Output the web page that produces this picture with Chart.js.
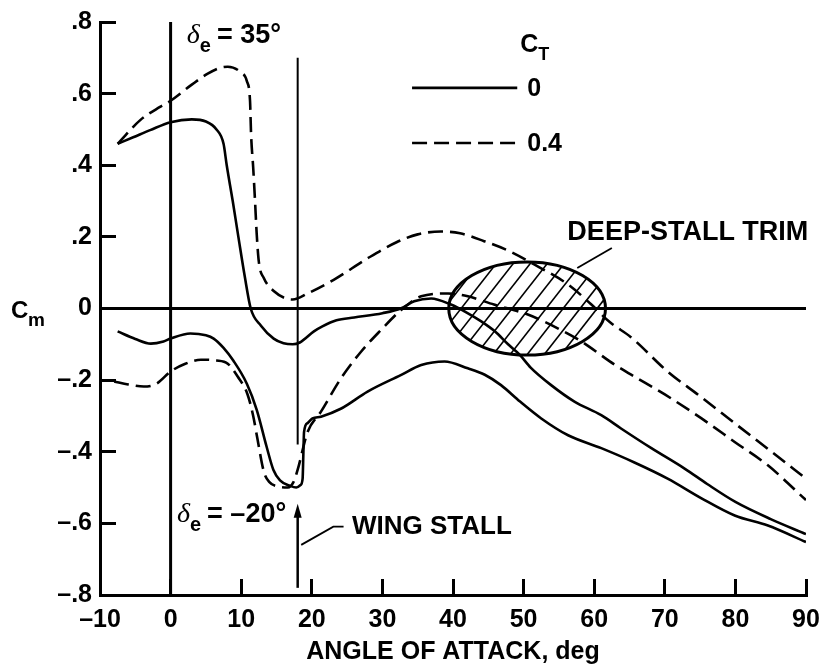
<!DOCTYPE html>
<html>
<head>
<meta charset="utf-8">
<script src="https://cdn.jsdelivr.net/npm/chart.js@4.4.0/dist/chart.umd.min.js"></script>
<style>
html, body { margin: 0; padding: 0; background: #fff; }
#wrap { width: 829px; height: 667px; position: relative; }
</style>
</head>
<body>
<div id="wrap"><canvas id="cmChart"></canvas></div>
<script>
// axis ticks
const xTicks = [-10, 0, 10, 20, 30, 40, 50, 60, 70, 80, 90];
const xTickLabels = ['\u201310', '0', '10', '20', '30', '40', '50', '60', '70', '80', '90'];
const yTicks = [0.8, 0.6, 0.4, 0.2, 0, -0.2, -0.4, -0.6, -0.8];
const yTickLabels = ['.8', '.6', '.4', '.2', '0', '\u2013.2', '\u2013.4', '\u2013.6', '\u2013.8'];
const xTitle = 'ANGLE OF ATTACK, deg';

// legend (thrust coefficient)
const ctLabels = ['0', '0.4'];
const deltaLabels = ['35\u00b0', '\u201320\u00b0'];

// CT = 0, delta_e = 35 deg
const alphaA = [-7.5, -5.3, -2.9, 0, 3, 5, 6.5, 7.5, 7.95, 8.8, 9.6, 10.5, 11.35, 12.8, 14.6, 16, 17.3, 18.3, 20.3, 21.5, 23.5, 26, 30, 32.6, 34.5, 36.9, 39.7, 42, 44, 46, 47.8, 49.4, 51, 53.9, 57.2, 61, 63.8, 68.1, 72.8, 76, 80, 85, 90];
const cmA =    [0.46, 0.478, 0.498, 0.52, 0.528, 0.522, 0.50, 0.46, 0.40, 0.30, 0.20, 0.09, 0.0, -0.048, -0.084, -0.097, -0.1, -0.095, -0.064, -0.05, -0.033, -0.025, -0.013, 0, 0.02, 0.028, 0.011, -0.012, -0.036, -0.065, -0.1, -0.128, -0.165, -0.214, -0.26, -0.298, -0.335, -0.39, -0.447, -0.49, -0.54, -0.588, -0.63];

// CT = 0.4, delta_e = 35 deg
const alphaB = [-7.5, -4.3, -1.5, 0, 3, 5.2, 7, 8.1, 9.9, 10.8, 11.25, 11.4, 11.7, 11.96, 12.2, 12.5, 13.2, 14.65, 16.5, 17.3, 19.4, 23.1, 27.9, 32, 35, 38.3, 41, 44.4, 48, 51.5, 56.3, 59.6, 62.2, 65.2, 70.4, 75, 80, 85, 90];
const cmB =    [0.46, 0.526, 0.563, 0.58, 0.625, 0.655, 0.672, 0.675, 0.66, 0.635, 0.58, 0.486, 0.393, 0.30, 0.207, 0.13, 0.085, 0.048, 0.027, 0.025, 0.042, 0.08, 0.14, 0.185, 0.207, 0.215, 0.21, 0.188, 0.16, 0.123, 0.067, 0.011, -0.038, -0.08, -0.176, -0.245, -0.322, -0.398, -0.475];

// CT = 0, delta_e = -20 deg
const alphaC = [-7.5, -5, -2.8, -1, 0, 2.8, 5, 6.1, 7.5, 8.9, 10.8, 12.2, 13.6, 14.55, 15.5, 16.9, 17.8, 18.4, 18.7, 18.8, 18.9, 19.4, 20.1, 21.3, 24.1, 27.9, 32.6, 35.5, 38.8, 42.1, 44.5, 46.8, 49.5, 52.5, 56.3, 61, 65.7, 70.4, 75.2, 79.9, 84.6, 90];
const cmC =    [-0.064, -0.085, -0.098, -0.092, -0.084, -0.07, -0.075, -0.084, -0.11, -0.146, -0.21, -0.283, -0.386, -0.45, -0.48, -0.495, -0.5, -0.493, -0.475, -0.41, -0.345, -0.32, -0.307, -0.302, -0.28, -0.232, -0.186, -0.158, -0.148, -0.167, -0.185, -0.214, -0.26, -0.307, -0.354, -0.39, -0.43, -0.475, -0.53, -0.578, -0.606, -0.652];

// CT = 0.4, delta_e = -20 deg
const alphaD = [-8, -6, -3.8, -2, 0, 2, 4.3, 6.5, 8.1, 9.5, 10.9, 11.7, 12.3, 13.2, 14, 15.2, 16.6, 17.4, 18, 19.4, 21.3, 24.1, 27, 29.8, 32.6, 35.5, 39.3, 42.1, 45.8, 50.6, 54.9, 58.2, 62.9, 65.7, 70, 75.2, 80, 84.6, 90];
const cmD =    [-0.204, -0.212, -0.218, -0.21, -0.176, -0.155, -0.143, -0.145, -0.154, -0.19, -0.24, -0.30, -0.364, -0.455, -0.485, -0.497, -0.5, -0.485, -0.45, -0.345, -0.288, -0.196, -0.12, -0.06, -0.005, 0.034, 0.042, 0.034, 0.011, -0.017, -0.056, -0.092, -0.157, -0.19, -0.24, -0.307, -0.374, -0.438, -0.535];

// reference marks
const wingStallAlpha = 18;
const wingStallLine = [0.70, -0.38];
const wingStallArrow = [-0.78, -0.545];
const trimCenter = [50.5, 0];
const trimRadius = [11.1, 0.13];

const SANS = '"Liberation Sans", Arial, Helvetica, sans-serif';
const DASH = [15, 7];
const TICK_LEN = 16;   // inward tick marks, px

function toXY(xs, ys) {
    return xs.map((v, i) => ({ x: v, y: ys[i] }));
}

function curve(label, xs, ys, dashed) {
    return {
        label: label,
        data: toXY(xs, ys),
        showLine: true,
        borderColor: '#000',
        borderWidth: 2.6,
        borderDash: dashed ? DASH : [],
        pointRadius: 0,
        cubicInterpolationMode: 'monotone',
        fill: false
    };
}

function refLine(xs, ys) {
    return {
        data: toXY(xs, ys),
        showLine: true,
        borderColor: '#000',
        borderWidth: 3,
        pointRadius: 0,
        tension: 0,
        clip: false
    };
}

// keep the plot box fixed: no extra label padding from the scales
function fixPadding(s) {
    s.paddingTop = 0;
    s.paddingBottom = 0;
    s.paddingLeft = 0;
    s.paddingRight = 0;
}

function drawDelta(ctx, px, py, rest) {
    ctx.textAlign = 'left';
    ctx.textBaseline = 'alphabetic';
    ctx.font = 'italic 28px "Liberation Serif", "DejaVu Serif", serif';
    ctx.fillText('\u03b4', px, py);
    let w = ctx.measureText('\u03b4').width;
    ctx.font = 'bold 20px ' + SANS;
    ctx.fillText('e', px + w, py + 9);
    w += ctx.measureText('e').width + 6;
    ctx.font = 'bold 27px ' + SANS;
    ctx.fillText('= ' + rest, px + w, py);
}

// ellipse, stall marks, labels, legend
const annotate = {
    id: 'annotate',
    beforeDatasetsDraw(chart) {
        const { ctx, scales: { x, y } } = chart;
        const cx = x.getPixelForValue(trimCenter[0]);
        const cy = y.getPixelForValue(trimCenter[1]);
        const rx = Math.abs(x.getPixelForValue(trimCenter[0] + trimRadius[0]) - cx);
        const ry = Math.abs(cy - y.getPixelForValue(trimCenter[1] + trimRadius[1]));

        ctx.save();
        ctx.beginPath();
        ctx.ellipse(cx, cy, rx, ry, 0, 0, Math.PI * 2);
        ctx.clip();
        ctx.strokeStyle = '#000';
        ctx.lineWidth = 1.6;
        const a = 52 * Math.PI / 180;
        const dx = Math.cos(a) * 200, dy = Math.sin(a) * 200;
        for (let k = -10; k <= 10; k++) {
            const x0 = cx + 2 + k * 17;
            ctx.beginPath();
            ctx.moveTo(x0 - dx, cy + dy);
            ctx.lineTo(x0 + dx, cy - dy);
            ctx.stroke();
        }
        ctx.restore();

        ctx.save();
        ctx.beginPath();
        ctx.ellipse(cx, cy, rx, ry, 0, 0, Math.PI * 2);
        ctx.strokeStyle = '#000';
        ctx.lineWidth = 3;
        ctx.stroke();
        ctx.restore();
    },
    afterDraw(chart) {
        const { ctx, scales: { x, y } } = chart;

        ctx.save();
        ctx.setLineDash([]);
        ctx.strokeStyle = '#000';
        ctx.fillStyle = '#000';

        // wing stall line and arrow
        const sx = x.getPixelForValue(wingStallAlpha);
        ctx.lineWidth = 2;
        ctx.beginPath();
        ctx.moveTo(sx, y.getPixelForValue(wingStallLine[0]));
        ctx.lineTo(sx, y.getPixelForValue(wingStallLine[1]));
        ctx.stroke();
        const ay0 = y.getPixelForValue(wingStallArrow[0]);
        const ay1 = y.getPixelForValue(wingStallArrow[1]);
        ctx.lineWidth = 2.5;
        ctx.beginPath();
        ctx.moveTo(sx, ay0);
        ctx.lineTo(sx, ay1 + 10);
        ctx.stroke();
        ctx.beginPath();
        ctx.moveTo(sx, ay1);
        ctx.lineTo(sx - 4, ay1 + 14);
        ctx.lineTo(sx + 4, ay1 + 14);
        ctx.closePath();
        ctx.fill();

        // WING STALL leader + label
        ctx.lineWidth = 1.8;
        ctx.beginPath();
        ctx.moveTo(x.getPixelForValue(18.5), y.getPixelForValue(-0.66));
        ctx.lineTo(x.getPixelForValue(23.05), y.getPixelForValue(-0.609));
        ctx.lineTo(x.getPixelForValue(24.5), y.getPixelForValue(-0.609));
        ctx.stroke();
        ctx.font = 'bold 26px ' + SANS;
        ctx.textAlign = 'left';
        ctx.textBaseline = 'middle';
        ctx.fillText('WING STALL', x.getPixelForValue(25.7), y.getPixelForValue(-0.609));

        // DEEP-STALL TRIM leader + label
        ctx.beginPath();
        ctx.moveTo(x.getPixelForValue(57.6), y.getPixelForValue(0.113));
        ctx.lineTo(x.getPixelForValue(62.5), y.getPixelForValue(0.169));
        ctx.stroke();
        ctx.font = 'bold 27px ' + SANS;
        ctx.fillText('DEEP-STALL TRIM', x.getPixelForValue(56.2), y.getPixelForValue(0.213));

        // elevator deflection labels
        drawDelta(ctx, x.getPixelForValue(2.3), y.getPixelForValue(0.741), deltaLabels[0]);
        drawDelta(ctx, x.getPixelForValue(0.9), y.getPixelForValue(-0.596), deltaLabels[1]);

        // C_m axis label
        ctx.textAlign = 'left';
        ctx.textBaseline = 'alphabetic';
        ctx.font = 'bold 24px ' + SANS;
        const cmY = y.getPixelForValue(0) + 9;
        ctx.fillText('C', 11, cmY);
        ctx.font = 'bold 19px ' + SANS;
        ctx.fillText('m', 28, cmY + 8);

        // legend
        const lx0 = x.getPixelForValue(34.2), lx1 = x.getPixelForValue(49.1);
        const legY = [y.getPixelForValue(0.616), y.getPixelForValue(0.462)];
        ctx.font = 'bold 25px ' + SANS;
        ctx.fillText('C', lx1 + 3, y.getPixelForValue(0.717));
        const cw = ctx.measureText('C').width;
        ctx.font = 'bold 18px ' + SANS;
        ctx.fillText('T', lx1 + 3 + cw, y.getPixelForValue(0.694));
        ctx.lineWidth = 2.6;
        ctLabels.forEach((lab, i) => {
            ctx.setLineDash(i === 0 ? [] : DASH);
            ctx.beginPath();
            ctx.moveTo(lx0, legY[i]);
            ctx.lineTo(lx1, legY[i]);
            ctx.stroke();
            ctx.setLineDash([]);
            ctx.font = 'bold 25px ' + SANS;
            ctx.textBaseline = 'middle';
            ctx.fillText(lab, lx1 + 10, legY[i] + 1);
            ctx.textBaseline = 'alphabetic';
        });
        ctx.restore();
    }
};

new Chart(document.getElementById('cmChart'), {
    type: 'scatter',
    data: {
        datasets: [
            refLine([0, 0], [-0.8, 0.8]),
            refLine([-10, 90], [0, 0]),
            curve('CT 0, de 35', alphaA, cmA, false),
            curve('CT 0.4, de 35', alphaB, cmB, true),
            curve('CT 0, de -20', alphaC, cmC, false),
            curve('CT 0.4, de -20', alphaD, cmD, true)
        ]
    },
    options: {
        responsive: true,
        maintainAspectRatio: false,
        animation: false,
        layout: { padding: { top: 22, right: 23, left: 0, bottom: 0 } },
        plugins: {
            legend: { display: false },
            tooltip: { enabled: false }
        },
        scales: {
            x: {
                type: 'linear',
                min: -10,
                max: 90,
                afterBuildTicks: s => { s.ticks = xTicks.map(v => ({ value: v })); },
                afterFit: s => { s.height = 72; fixPadding(s); },
                // negative tick length turns the tick marks inward
                grid: { display: true, drawOnChartArea: false, drawTicks: true, tickLength: -TICK_LEN, tickWidth: 3, tickColor: '#000' },
                border: { display: true, color: '#000', width: 3 },
                ticks: {
                    color: '#000',
                    padding: 10 + TICK_LEN,
                    autoSkip: false,
                    maxRotation: 0,
                    font: { family: SANS, size: 25, weight: 'bold' },
                    callback: v => xTickLabels[xTicks.indexOf(v)]
                },
                title: {
                    display: true,
                    text: xTitle,
                    color: '#000',
                    font: { family: SANS, size: 25, weight: 'bold' },
                    padding: { top: 0, bottom: 0 }
                }
            },
            y: {
                type: 'linear',
                min: -0.8,
                max: 0.8,
                afterBuildTicks: s => { s.ticks = yTicks.map(v => ({ value: v })); },
                afterFit: s => { s.width = 100; fixPadding(s); },
                grid: { display: true, drawOnChartArea: false, drawTicks: true, tickLength: -TICK_LEN, tickWidth: 3, tickColor: '#000' },
                border: { display: true, color: '#000', width: 3 },
                ticks: {
                    color: '#000',
                    padding: 8 + TICK_LEN,
                    autoSkip: false,
                    font: { family: SANS, size: 25, weight: 'bold' },
                    callback: v => yTickLabels[yTicks.findIndex(t => Math.abs(t - v) < 1e-9)]
                }
            }
        }
    },
    plugins: [annotate]
});
</script>
</body>
</html>
